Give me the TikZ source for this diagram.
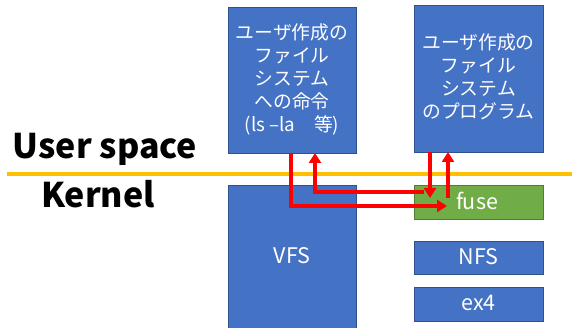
\documentclass[tikz,border=0pt]{standalone}
\usepackage{fontspec}
\setmainfont{Noto Sans CJK JP}
\usetikzlibrary{arrows.meta}
\definecolor{boxblue}{HTML}{4472C4}
\definecolor{boxedge}{HTML}{2F528F}
\definecolor{fusegreen}{HTML}{70AD47}
\definecolor{fuseedge}{HTML}{507E32}
\definecolor{lineorange}{HTML}{FFC000}
\definecolor{arrowred}{HTML}{FF0000}
\tikzset{
  fsbox/.style={draw=boxedge, line width=0.6pt, fill=boxblue, text=white},
  greenbox/.style={draw=fuseedge, line width=0.6pt, fill=fusegreen, text=white},
  boxtext/.style={text=white, align=center, font=\fontsize{18.8}{23}\selectfont, inner sep=0pt},
  smalltext/.style={text=white, font=\fontsize{21.5}{24}\selectfont, inner sep=0pt},
  bigtext/.style={font=\bfseries\fontsize{34}{38}\selectfont, inner sep=0pt},
  redarrow/.style={draw=arrowred, line width=4pt, -{Triangle[length=10pt,width=12pt]}},
}
\begin{document}
\begin{tikzpicture}[x=1pt,y=-1pt]
\useasboundingbox (0,0) rectangle (572,328);
% boxes
\draw[fsbox] (228,7) rectangle (356,153);
\node[boxtext] (cmd) at (292,79) {ユーザ作成の\\ファイル\\システム\\への命令\\(ls –la　等)};
\draw[fsbox] (414,5) rectangle (543,152);
\node[boxtext] (prog) at (478.5,77) {ユーザ作成の\\ファイル\\システム\\のプログラム};
\draw[fsbox] (228,185) rectangle (356,330);
\node[smalltext] (vfs) at (292,256) {VFS};
\draw[greenbox] (414,185) rectangle (543,219);
\node[smalltext] (fuse) at (477,201) {fuse};
\draw[fsbox] (414,241) rectangle (543,274);
\node[smalltext] (nfs) at (478.5,257) {NFS};
\draw[fsbox] (414,287) rectangle (543,321);
\node[smalltext] (ex4) at (478.5,303) {ex4};
% separator
\coordinate (sepL) at (7,174);
\coordinate (sepR) at (572,174);
\draw[lineorange, line width=4pt] (sepL) -- (sepR);
\node[bigtext, anchor=base] (user) at (105,159) {User space};
\node[bigtext, anchor=base] (kernel) at (98,208) {Kernel};
% arrows
\coordinate (a1s) at (291,153);
\coordinate (a1c) at (291,206);
\coordinate (a1e) at (447,206);
\draw[redarrow] (a1s) -- (a1c) -- (a1e);
\coordinate (a2s) at (424,192);
\coordinate (a2c) at (315,192);
\coordinate (a2e) at (315,153);
\draw[redarrow] (a2s) -- (a2c) -- (a2e);
\coordinate (a3s) at (430,152);
\coordinate (a3e) at (430,198);
\draw[redarrow] (a3s) -- (a3e);
\coordinate (a4s) at (448,198);
\coordinate (a4e) at (448,152);
\draw[redarrow] (a4s) -- (a4e);
\end{tikzpicture}
\end{document}
